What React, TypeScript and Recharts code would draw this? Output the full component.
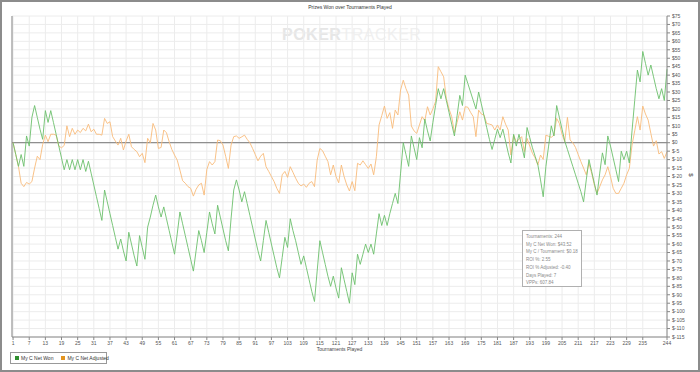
import { LineChart, Line, XAxis, YAxis, CartesianGrid, ReferenceLine } from 'recharts'

// cumulative prizes won, one value per tournament
const netWon = [
  0, -7, -14, -7, -14, 4, -2, 15, 22, 15,
  8, 2, 19, 12, 19, 12, 5, -2, -9, -16,
  -10, -16, -10, -16, -10, -16, -10, -17, -11, -18,
  -25, -32, -39, -46, -28, -35, -42, -49, -56, -63,
  -57, -64, -70, -53, -60, -67, -73, -55, -62, -69,
  -50, -44, -37, -31, -38, -44, -38, -45, -52, -59,
  -66, -54, -41, -48, -55, -62, -69, -76, -64, -52,
  -58, -65, -53, -41, -48, -54, -37, -44, -51, -58,
  -64, -45, -28, -22, -28, -35, -29, -36, -43, -50,
  -57, -64, -70, -58, -46, -53, -60, -67, -74, -80,
  -68, -56, -62, -45, -52, -58, -65, -72, -67, -74,
  -81, -88, -94, -76, -58, -65, -72, -79, -85, -79,
  -86, -92, -74, -81, -88, -95, -77, -84, -66, -72,
  -66, -60, -65, -60, -66, -54, -42, -49, -43, -49,
  -42, -36, -30, -36, -18, 0, -7, -14, 4, -3,
  -10, 3, -3, 14, 7, 1, 12, 22, 32, 26,
  32, 25, 18, 11, 4, 16, 28, 22, 40, 35,
  30, 25, 20, 30, 23, 16, 9, 2, -4, 2,
  8, 3, 8, 1, -6, -12, 5, -2, 5, -2,
  -9, 9, 3, -3, -8, -13, -22, -32, -14, -2,
  10, 4, 22, 15, 8, 1, -4, -9, -14, -19,
  -24, -29, -35, -22, -10, -17, -24, -31, -18, -6,
  -13, 4, -2, -9, -16, -23, -5, -10, -5, -12,
  7, 25, 43, 36, 54, 47, 40, 46, 39, 32,
  26, 32, 25, 43.52,
]

const netAdjusted = [
  0, -7, -14, -24, -26, -23.5, -24.5, -23, -15, -8,
  -10, -1, 4.5, 0.6, 5, 5, 4.5, -2, -3, -1.6,
  10, 3.6, 8.5, 5, 7.5, 6, 8.5, 7, 11, 6.5,
  8, 5, 5, 4.5, 14.4, 11.4, 12.4, 3.6, 1, -1.4,
  2.6, -4.3, 1, 5, -2.4, -4, -5.3, -8.3, -6.3, -11.8,
  2.6, 0, 11.4, 7.5, -3.4, -2.8, 7.5, 5.9, 0.6, -4,
  -7.3, -10.3, -16.2, -22.5, -24, -26, -27, -31.6, -27.6, -25,
  -24, -31, -15.8, -11.2, -13.2, -11.2, 1.6, 1.2, -1.4, -8,
  -15.2, -1.4, 3.6, 4, 2.6, 3.5, 4.5, 2, 0, -3.4,
  -7, -10.7, -8, -6.3, -14.2, -17, -20, -23, -27, -30,
  -19, -17, -20.5, -14.2, -17.5, -21, -24, -25.6, -24.5, -26.4,
  -24, -23, -26, -10.3, -3.4, -4.7, -8, -11.2, -19, -13.2,
  -20, -23.7, -13.2, -20, -25, -28.6, -23, -28.4, -12.2, -13.2,
  -10.7, -13, -15.2, -12.6, -19, -8.3, 10.5, 16, 21.7, 14.4,
  17.8, 8.5, 19.3, 16.4, 31.2, 37, 32, 28.2, 9.9, 7,
  5.5, 10.5, 15.4, 13, 21.3, 16.4, 20, 24.3, 45, 42,
  39, 26.2, 20, 15.4, 6, 12, 18.3, 13.4, 21.3, 21,
  18, 15.4, 3.6, 19.3, 17, 16.4, 11.4, 11, 10.5, 7.5,
  10.5, 7.5, 15.4, 11, 7.5, -7.3, 4.5, 0.6, 2, 3.6,
  -5.3, 2.6, -2, -6.3, -9, -13.2, -7.3, -9.9, 4.5, 3.8,
  3.2, 4.5, 14.4, 11.4, 5, 0.6, 15, 1.6, 0, -2.8,
  -7, -11.2, -15, -19, -12.2, -18, -25, -30, -26, -22,
  -19, -14.2, -20, -27, -30, -30, -27, -24, -19, -15.2,
  -1.4, 7, 15.4, 7.5, 21.7, 17, 13.4, 5.5, -2, 1.2,
  -6.7, -5.3, -9.3, -5.3,
]

const xTicks = [
  1, 7, 13, 19, 25, 31, 37, 43, 49, 55, 61, 67, 73, 79, 85, 91, 97, 103, 109, 115,
  121, 127, 133, 139, 145, 151, 157, 163, 169, 175, 181, 187, 193, 199, 205, 211,
  217, 223, 229, 235, 244,
]

const yTicks = [
  75, 70, 65, 60, 55, 50, 45, 40, 35, 30, 25, 20, 15, 10, 5, 0, -5, -10, -15, -20,
  -25, -30, -35, -40, -45, -50, -55, -60, -65, -70, -75, -80, -85, -90, -95, -100,
  -105, -110, -115,
]

const summary = [
  'Tournaments: 244',
  'My C Net Won: $43.52',
  'My C / Tournament: $0.18',
  'ROI %: 2.55',
  'ROI % Adjusted: -0.40',
  'Days Played: 7',
  'VPPs: 607.84',
]

const data = netWon.map((v, i) => ({ t: i + 1, won: v, adj: netAdjusted[i] }))

const GREEN = '#6cc06c'
const ORANGE = '#f8bb7a'
const tickStyle = { fontSize: 5, fill: '#555' }

export default function App() {
  return (
    <div style={{
      position: 'absolute', left: 0, top: 0, width: 700, height: 372,
      fontFamily: 'Liberation Sans, Arial, sans-serif', background: '#fff',
    }}>
      <div style={{ position: 'absolute', left: 282, top: 26, fontSize: 16, letterSpacing: 0.5, whiteSpace: 'nowrap' }}>
        <span style={{ color: '#e6e6e6', fontWeight: 700 }}>POKER</span>
        <span style={{ color: '#f0f0f0' }}>TRACKER</span>
      </div>
      <div style={{ position: 'absolute', left: 0, top: 4, width: 700, textAlign: 'center', fontSize: 5, color: '#333' }}>
        Prizes Won over Tournaments Played
      </div>
      <LineChart width={700} height={372} data={data} margin={{ top: 16, right: 0, left: 12, bottom: 0 }}
        style={{ position: 'absolute', left: 0, top: 0 }}>
        <CartesianGrid stroke="#ececec" />
        <XAxis
          dataKey="t"
          type="number"
          domain={[0.6, 244]}
          ticks={xTicks}
          interval={0}
          tick={tickStyle}
          tickSize={3}
          tickMargin={1}
          axisLine={{ stroke: '#888' }}
          tickLine={{ stroke: '#888' }}
          height={35}
          label={{ value: 'Tournaments Played', position: 'insideBottom', offset: 21, fontSize: 5, fill: '#444' }}
        />
        <YAxis
          orientation="right"
          type="number"
          domain={[-115, 75]}
          ticks={yTicks}
          interval={0}
          tickFormatter={(v: number) => '$' + v}
          tick={{ ...tickStyle, textAnchor: 'start' }}
          tickSize={3}
          axisLine={{ stroke: '#888' }}
          tickLine={{ stroke: '#888' }}
          width={33}
          label={{ value: '$', angle: 90, position: 'insideRight', offset: 9, fontSize: 6, fill: '#444' }}
        />
        <ReferenceLine x={0.6} stroke="#888" />
        <ReferenceLine y={0} stroke="#777" />
        <Line type="linear" dataKey="adj" stroke={ORANGE} strokeWidth={0.9} dot={false} isAnimationActive={false} />
        <Line type="linear" dataKey="won" stroke={GREEN} strokeWidth={0.9} dot={false} isAnimationActive={false} />
      </LineChart>
      <div style={{
        position: 'absolute', left: 522, top: 230, width: 60, height: 57, boxSizing: 'border-box',
        border: '1px solid #b0b0b0', background: '#fff', padding: '2px 3px', fontSize: 4.5,
        lineHeight: '7.7px', color: '#8a8a8a', whiteSpace: 'nowrap',
      }}>
        {summary.map(s => <div key={s}>{s}</div>)}
      </div>
      <div style={{
        position: 'absolute', left: 10, top: 352, width: 97, height: 12, boxSizing: 'border-box',
        border: '1px solid #999', display: 'flex', alignItems: 'center', gap: 8, paddingLeft: 4,
        fontSize: 5, color: '#333', whiteSpace: 'nowrap',
      }}>
        <span style={{ display: 'flex', alignItems: 'center', gap: 2 }}>
          <span style={{ width: 4, height: 4, background: '#2f8f2f', display: 'inline-block' }} />My C Net Won
        </span>
        <span style={{ display: 'flex', alignItems: 'center', gap: 2 }}>
          <span style={{ width: 4, height: 4, background: '#e3941f', display: 'inline-block' }} />My C Net Adjusted
        </span>
      </div>
      <div style={{
        position: 'absolute', left: 0, top: 0, width: 700, height: 372, boxSizing: 'border-box',
        border: '2px solid #8c8c8c', pointerEvents: 'none',
      }} />
    </div>
  )
}
